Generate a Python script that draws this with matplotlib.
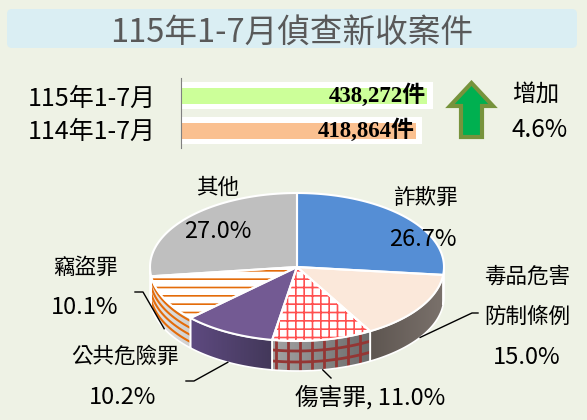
import numpy as np
import matplotlib.pyplot as plt
from matplotlib.patches import Polygon, FancyBboxPatch, FancyArrow
from matplotlib.colors import LinearSegmentedColormap

plt.rcParams['font.family'] = ['Noto Sans CJK TC', 'DejaVu Sans']
plt.rcParams['hatch.linewidth'] = 1.2

# ---- data ----
title = '115年1-7月偵查新收案件'
periods = ['115年1-7月', '114年1-7月']
cases = [438272, 418864]
growth_label = ['增加', '4.6%']

crimes = ['詐欺罪', '毒品危害\n防制條例', '傷害罪', '公共危險罪', '竊盜罪', '其他']
shares = [26.7, 15.0, 11.0, 10.2, 10.1, 27.0]

BG = '#EEF2E5'
fig = plt.figure(figsize=(5.87, 4.2), dpi=100, facecolor=BG)
ax = fig.add_axes([0, 0, 1, 1])
ax.set_xlim(0, 587)
ax.set_ylim(420, 0)
ax.axis('off')

# title
ax.add_patch(FancyBboxPatch((7, 9), 570, 39, boxstyle='round,pad=0,rounding_size=5',
                            fc='#DAEEF3', ec='none'))
ax.text(292, 33, title, ha='center', va='center', fontsize=23.5, color='#595959')

# ---- compare bars ----
bax = fig.add_axes([181/587, 1-148/420, 260/587, 70/420])
xmax = cases[0] * 260 / 246
bax.set_xlim(0, xmax)
bax.set_ylim(1.5, -0.5)
bax.patch.set_alpha(0)
for s in ['top', 'right', 'bottom']:
    bax.spines[s].set_visible(False)
bax.spines['left'].set_color('#808080')
bax.set_xticks([])
bax.set_yticks([])
pad = 6 * xmax / 260
bar_cols = ['#CCFF99', '#FAC090']
for i, v in enumerate(cases):
    bax.barh(i, v + pad, height=27/35, color='white')
    bax.barh(i, v, height=16/35, color=bar_cols[i])
    bax.annotate(f'{v:,}件', (v, i), xytext=(-1, 0), textcoords='offset pixels',
                 ha='right', va='center', fontsize=16.5, fontweight='bold',
                 family=['Liberation Serif', 'Noto Sans CJK TC'])
for i, p in enumerate(periods):
    ax.text(28, 99 + 33*i, p, ha='left', va='center', fontsize=18)

ax.add_patch(FancyArrow(471.5, 137, 0, -54, width=21, head_width=43, head_length=23,
                        length_includes_head=True, fc='#00B050', ec='#77933C', lw=3))
ax.text(512, 95, growth_label[0], ha='left', va='center', fontsize=17)
ax.text(512, 130, growth_label[1], ha='left', va='center', fontsize=17.5)

# ---- 3D pie ----
cx, cy, rx, ry, depth = 297, 267, 147, 74, 30


def arc(a1, a2, dy=0, n=80):
    t = np.radians(np.linspace(a1, a2, n))
    return np.column_stack([cx + rx*np.cos(t), cy - ry*np.sin(t) + dy])


def gradient_fill(poly, c1, c2):
    (x0, y0), (x1, y1) = poly.min(0), poly.max(0)
    cmap = LinearSegmentedColormap.from_list('g', [c1, c2])
    im = ax.imshow(np.linspace(0, 1, 64)[None, :], cmap=cmap, aspect='auto',
                   extent=[x0, x1, y1, y0], zorder=2)
    clip = Polygon(poly, closed=True, fc='none', ec='none')
    ax.add_patch(clip)
    im.set_clip_path(clip)


bounds = 90 - 3.6 * np.concatenate([[0], np.cumsum(shares)])
top_style = [
    dict(fc='#558ED5'),
    dict(fc='#FBE8DA'),
    dict(fc='white', ec='#FF5050', hatch='++', lw=0),
    dict(fc='#735A93'),
    dict(fc='white', ec='#E46C0A', hatch='--', lw=0),
    dict(fc='#BFBFBF'),
]
side_grad = {0: ('#3F6BA8', '#3F6BA8'), 1: ('#5E5651', '#7A716B'),
             2: ('#A3A3A3', '#6A6A6A'), 3: ('#5E4A80', '#43385A'),
             4: ('#E6E6E6', '#D0D0D0'), 5: ('#9A9A9A', '#9A9A9A')}

mids = []
for i in range(len(shares)):
    a_start, a_end = bounds[i], bounds[i+1]
    mids.append((a_start + a_end) / 2)
    lo, hi = max(a_end, -180), min(a_start, 0)
    if hi > lo:
        side = np.vstack([arc(lo, hi), arc(hi, lo, depth)])
        gradient_fill(side, *side_grad[i])
        clip = Polygon(side, closed=True, fc='none', ec='none')
        ax.add_patch(clip)
        if i == 2:
            for d in [10, 21]:
                ln, = ax.plot(*arc(lo, hi, d).T, color='#943634', lw=2, zorder=3)
                ln.set_clip_path(clip)
            for xv in np.arange(cx + rx*np.cos(np.radians(lo)) + 4,
                                cx + rx*np.cos(np.radians(hi)), 12):
                ln, = ax.plot([xv, xv], [cy, cy + ry + depth + 5], color='#943634',
                              lw=2, zorder=3)
                ln.set_clip_path(clip)
        if i == 4:
            for d in np.arange(3, depth, 7):
                ln, = ax.plot(*arc(lo, hi, d).T, color='#E46C0A', lw=1.5, zorder=3)
                ln.set_clip_path(clip)
        ax.add_patch(Polygon(side, closed=True, fill=False, ec='white', lw=1.2, zorder=4))

for i in range(len(shares)):
    pts = np.vstack([[cx, cy], arc(bounds[i], bounds[i+1])])
    st = dict(ec='white', lw=0)
    st.update(top_style[i])
    ax.add_patch(Polygon(pts, closed=True, zorder=5, **st))
    ax.add_patch(Polygon(pts, closed=True, fill=False, ec='white', lw=1.5, zorder=6))

# ---- labels ----
pct = [f'{s:.1f}%' for s in shares]
name_fs, pct_fs = 15.5, 17
kw = dict(ha='center', va='center', zorder=10)
ax.text(425, 198, crimes[0], fontsize=name_fs, **kw)
ax.text(423, 240, pct[0], fontsize=pct_fs, **kw)
ax.text(218, 188, crimes[5], fontsize=name_fs, **kw)
ax.text(218, 232, pct[5], fontsize=pct_fs, **kw)
l1, l2 = crimes[1].split('\n')
ax.text(527, 277, l1, fontsize=name_fs, **kw)
ax.text(527, 317, l2, fontsize=name_fs, **kw)
ax.text(527, 358, pct[1], fontsize=pct_fs, **kw)
ax.text(85, 268, crimes[4], fontsize=name_fs, **kw)
ax.text(85, 308, pct[4], fontsize=pct_fs, **kw)
ax.text(125, 357, crimes[3], fontsize=name_fs, **kw)
ax.text(123, 397, pct[3], fontsize=pct_fs, **kw)
ax.text(370, 397, f'{crimes[2]}, {pct[2]}', fontsize=pct_fs, **kw)


def leader(i, *pts):
    t = np.radians(mids[i])
    x0, y0 = cx + rx*np.cos(t), cy - ry*np.sin(t) + depth
    xs = [x0] + [p[0] for p in pts]
    ys = [y0] + [p[1] for p in pts]
    ax.plot(xs, ys, color='black', lw=1, zorder=7)


leader(1, (472, 313), (478, 313))
leader(2, (331, 378))
leader(3, (194, 381), (186, 381))
leader(4, (143, 292), (135, 292))

fig.savefig('out.png', dpi=100, facecolor=BG)
